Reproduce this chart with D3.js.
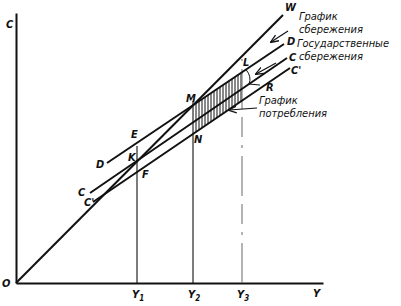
<!DOCTYPE html>
<html>
<head>
<meta charset="utf-8">
<script src="https://cdn.jsdelivr.net/npm/d3@7"></script>
<style>
body { margin: 0; background: #fff; }
text { font-family: "DejaVu Sans Condensed", "Liberation Sans", Arial, sans-serif; font-style: italic; fill: #111; }
</style>
</head>
<body>
<div id="chart"></div>
<script>
// income levels Y1, Y2, Y3 (chart units)
var incomeNames = ["1", "2", "3"];
var incomeLevels = [121, 177, 226];
var incomeTops = [137, 182, 224];

// schedules: two end points each, [income, value]
var line45 = [[0, 0], [267, 268]];        // 45 degree line (W)
var lineD = [[91, 120], [268, 239]];      // D
var lineC = [[74, 90], [271, 225]];       // C
var lineC2 = [[77, 81], [274, 215]];      // C'

var width = 401, height = 306;

var svg = d3.select("#chart").append("svg")
    .attr("width", width)
    .attr("height", height);

var x = d3.scaleLinear().domain([0, 307]).range([16, 323]);
var y = d3.scaleLinear().domain([0, 270]).range([283, 13]);

// value of a two-point schedule at income v
function valueAt(seg, v) {
  var t = (v - seg[0][0]) / (seg[1][0] - seg[0][0]);
  return seg[0][1] + t * (seg[1][1] - seg[0][1]);
}

var line = d3.line()
    .x(function(d) { return x(d[0]); })
    .y(function(d) { return y(d[1]); });

// axes
svg.append("g")
    .attr("transform", "translate(0," + y(0) + ")")
    .call(d3.axisBottom(x).tickValues([]).tickSizeOuter(0))
    .select(".domain").attr("stroke", "#111").attr("stroke-width", 1.8);
svg.append("g")
    .attr("transform", "translate(" + x(0) + ",0)")
    .call(d3.axisLeft(y).tickValues([]).tickSizeOuter(0))
    .select(".domain").attr("stroke", "#111").attr("stroke-width", 2);

// hatching between D and C' from Y2 to Y3
var hatch = d3.range(incomeLevels[1] + 3, incomeLevels[2] + 1, 3);
svg.selectAll(".hatch")
    .data(hatch)
    .enter().append("line")
    .attr("class", "hatch")
    .attr("x1", function(d) { return x(d); })
    .attr("x2", function(d) { return x(d); })
    .attr("y1", function(d) { return y(valueAt(lineD, d)); })
    .attr("y2", function(d) { return y(valueAt(lineC2, d)); })
    .attr("stroke", "#111")
    .attr("stroke-width", 1);

// verticals at Y1, Y2, Y3
svg.selectAll(".ylev")
    .data(incomeLevels)
    .enter().append("line")
    .attr("class", "ylev")
    .attr("x1", function(d) { return x(d); })
    .attr("x2", function(d) { return x(d); })
    .attr("y1", y(0))
    .attr("y2", function(d, i) { return y(incomeTops[i]); })
    .attr("stroke", function(d, i) { return i == 2 ? "#777" : "#111"; })
    .attr("stroke-width", 1.1)
    .attr("stroke-dasharray", function(d, i) { return i == 2 ? "40,8,3,8,20,8" : null; });

// schedules
[line45, lineD, lineC, lineC2].forEach(function(seg) {
  svg.append("path")
      .attr("d", line(seg))
      .attr("fill", "none")
      .attr("stroke", "#111")
      .attr("stroke-width", 2);
});

// bracket between D and C near Y3
var bx = incomeLevels[2] + 4;
var by1 = y(valueAt(lineD, bx)), by2 = y(valueAt(lineC, bx + 3));
svg.append("path")
    .attr("d", "M" + x(bx) + "," + by1 + " Q" + (x(bx) + 6) + "," + ((by1 + by2) / 2) +
               " " + (x(bx) + 3) + "," + by2 + " L" + (x(bx) + 14) + "," + (by2 + 1))
    .attr("fill", "none")
    .attr("stroke", "#111")
    .attr("stroke-width", 1);

// arrows
svg.append("defs").append("marker")
    .attr("id", "arr")
    .attr("viewBox", "0 0 10 10")
    .attr("refX", 9).attr("refY", 5)
    .attr("markerWidth", 7).attr("markerHeight", 7)
    .attr("orient", "auto")
  .append("path")
    .attr("d", "M0,1 L10,5 L0,9")
    .attr("fill", "none")
    .attr("stroke", "#111")
    .attr("stroke-width", 1.5);

var arrows = [[288, 31, 271, 42], [276, 63, 256, 74], [257, 108, 229, 110]];
arrows.forEach(function(a) {
  svg.append("line")
      .attr("x1", a[0]).attr("y1", a[1])
      .attr("x2", a[2]).attr("y2", a[3])
      .attr("stroke", "#111")
      .attr("stroke-width", 1.2)
      .attr("marker-end", "url(#arr)");
});

// point labels
var labels = [
  ["C", 6, 28], ["O", 2, 287], ["Y", 313, 297], ["W", 285, 11],
  ["D", 287, 45], ["C", 289, 61], ["C'", 291, 74],
  ["L", 243, 66], ["R", 266, 91], ["M", 186, 102], ["N", 194, 143],
  ["E", 131, 138], ["K", 128, 161], ["F", 142, 178],
  ["D", 96, 168], ["C", 78, 196], ["C'", 84, 206]
];
svg.selectAll(".lab")
    .data(labels)
    .enter().append("text")
    .attr("class", "lab")
    .attr("x", function(d) { return d[1]; })
    .attr("y", function(d) { return d[2]; })
    .style("font-size", "11px")
    .style("font-weight", "bold")
    .text(function(d) { return d[0]; });

// income labels with subscripts
incomeLevels.forEach(function(v, i) {
  var t = svg.append("text")
      .attr("x", x(v) - 5)
      .attr("y", 298)
      .style("font-size", "11px")
      .style("font-weight", "bold");
  t.append("tspan").text("Y");
  t.append("tspan").attr("dy", 3).style("font-size", "8px").text(incomeNames[i]);
});

// captions
var captions = [
  ["График", 299, 20], ["сбережения", 299, 33],
  ["Государственные", 297, 47], ["сбережения", 299, 60],
  ["График", 259, 104], ["потребления", 259, 117]
];
svg.selectAll(".cap")
    .data(captions)
    .enter().append("text")
    .attr("class", "cap")
    .attr("x", function(d) { return d[1]; })
    .attr("y", function(d) { return d[2]; })
    .style("font-size", "11px")
    .text(function(d) { return d[0]; });
</script>
</body>
</html>
